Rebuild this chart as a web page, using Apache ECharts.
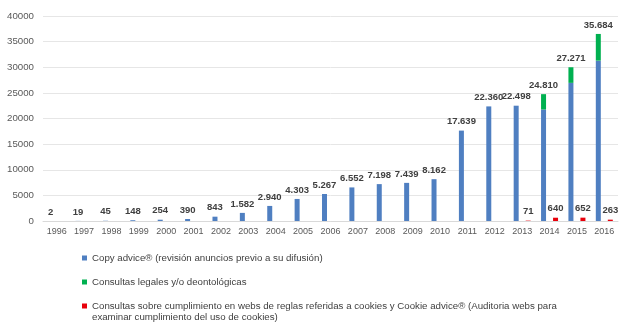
<!DOCTYPE html>
<html>
<head>
<meta charset="utf-8">
<script src="https://cdn.jsdelivr.net/npm/echarts@6/dist/echarts.min.js"></script>
<style>
  html, body { margin: 0; padding: 0; background: #fff; }
  #chart { width: 624px; height: 327px; }
</style>
</head>
<body>
<div id="chart"></div>
<script>
const years = ['1996', '1997', '1998', '1999', '2000', '2001', '2002', '2003', '2004', '2005', '2006',
  '2007', '2008', '2009', '2010', '2011', '2012', '2013', '2014', '2015', '2016'];

// Copy advice (blue)
const copyAdvice = [2, 19, 45, 148, 254, 390, 843, 1582, 2940, 4303, 5267,
  6552, 7198, 7439, 8162, 17639, 22360, 22498, 21760, 26950, 31290];

// Consultas legales (green), stacked on top of the blue bar
const consultasLegales = [null, null, null, null, null, null, null, null, null, null, null,
  null, null, null, null, null, null, null, 2990, 3050, 5210];

// Cookies (red)
const cookies = [null, null, null, null, null, null, null, null, null, null, null,
  null, null, null, null, null, null, 71, 640, 652, 263];

// label printed above each blue/green column
const topLabels = [2, 19, 45, 148, 254, 390, 843, 1582, 2940, 4303, 5267,
  6552, 7198, 7439, 8162, 17639, 22360, 22498, 24810, 27271, 35684];

const seriesNames = [
  'Copy advice® (revisión anuncios previo a su difusión)',
  'Consultas legales y/o deontológicas',
  'Consultas sobre cumplimiento en webs de reglas referidas a cookies y Cookie advice® (Auditoria webs para examinar cumplimiento del uso de cookies)',
];

const FONT = 'Liberation Sans';
const TXT = '#595959';

const fmtDots = (n) => String(n).replace(/\B(?=(\d{3})+(?!\d))/g, '.');

const labelStyle = {
  show: true,
  position: 'top',
  distance: 4,
  fontFamily: FONT,
  fontSize: 9.5,
  fontWeight: 'bold',
  color: '#404040',
};

const chart = echarts.init(document.getElementById('chart'));

const legendBase = {
  orient: 'vertical',
  left: 82,
  padding: 0,
  itemWidth: 5,
  itemHeight: 5,
  icon: 'rect',
  textStyle: { fontFamily: FONT, fontSize: 9.7, lineHeight: 11, color: '#404040' },
};

chart.setOption({
  animation: false,
  grid: { left: 43, right: 6, top: 16, bottom: 106, containLabel: false },
  legend: [
    Object.assign({}, legendBase, { top: 252.5, data: [seriesNames[0]] }),
    Object.assign({}, legendBase, { top: 276.5, data: [seriesNames[1]] }),
    Object.assign({}, legendBase, {
      top: 289.5,
      data: [seriesNames[2]],
      // blank first line keeps the icon level with the first line of text
      formatter: (name) => '\u00a0\n' + name.replace(' examinar', '\nexaminar'),
    }),
  ],
  xAxis: {
    type: 'category',
    data: years,
    axisLine: { show: true, lineStyle: { color: '#d9d9d9' } },
    axisTick: { show: false },
    axisLabel: { fontFamily: FONT, fontSize: 9, color: TXT, margin: 6 },
  },
  yAxis: {
    type: 'value',
    min: 0,
    max: 40000,
    interval: 5000,
    axisLine: { show: false },
    axisTick: { show: false },
    splitLine: { lineStyle: { color: '#e6e6e6' } },
    axisLabel: { fontFamily: FONT, fontSize: 9.7, color: TXT, margin: 9, formatter: (v) => String(v) },
  },
  series: [
    {
      name: seriesNames[0],
      type: 'bar',
      stack: 'main',
      barWidth: 5,
      barGap: '140%',
      data: copyAdvice,
      itemStyle: { color: '#4f7fc1' },
      label: Object.assign({}, labelStyle, {
        formatter: (p) => (consultasLegales[p.dataIndex] == null ? fmtDots(topLabels[p.dataIndex]) : ''),
      }),
    },
    {
      name: seriesNames[1],
      type: 'bar',
      stack: 'main',
      barWidth: 5,
      data: consultasLegales,
      itemStyle: { color: '#00b050' },
      label: Object.assign({}, labelStyle, {
        formatter: (p) => fmtDots(topLabels[p.dataIndex]),
      }),
    },
    {
      name: seriesNames[2],
      type: 'bar',
      stack: 'cookies',
      barWidth: 5,
      data: cookies,
      itemStyle: { color: '#e8000b' },
      label: Object.assign({}, labelStyle, {
        formatter: (p) => fmtDots(p.value),
      }),
    },
  ],
});
</script>
</body>
</html>
